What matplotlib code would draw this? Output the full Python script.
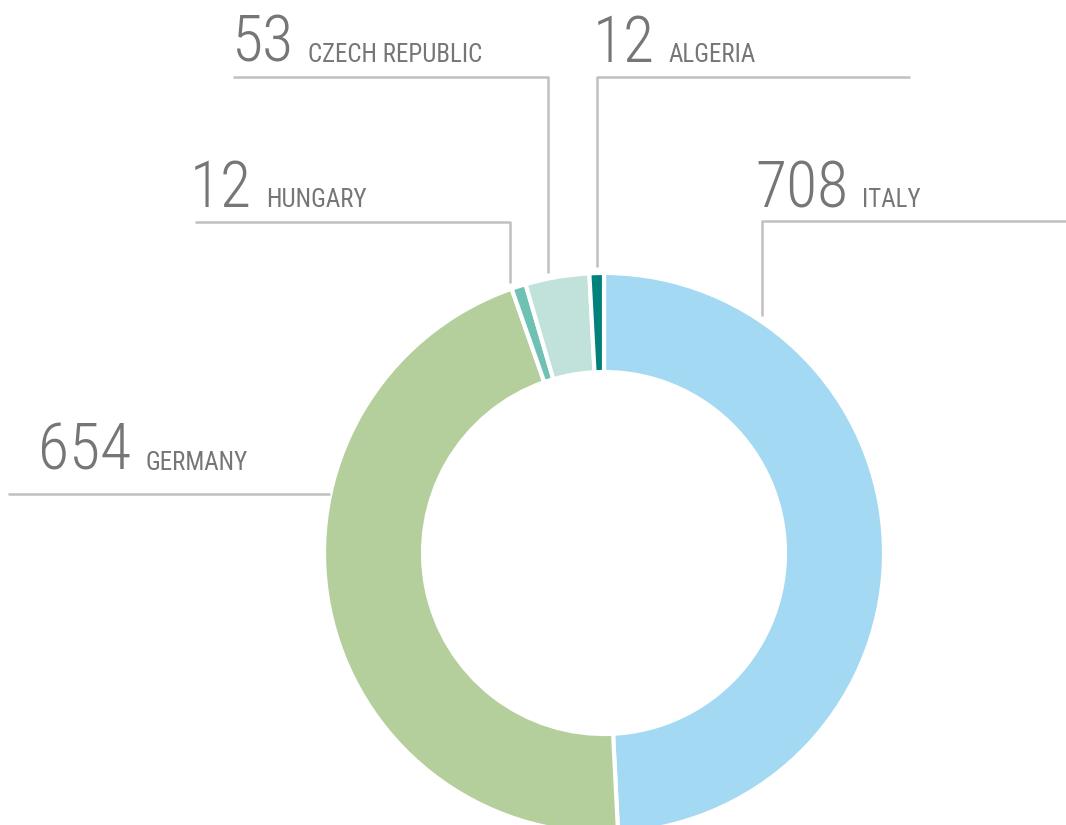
import numpy as np
import matplotlib
matplotlib.use("Agg")
import matplotlib.pyplot as plt
from matplotlib import font_manager

countries = ["ITALY", "GERMANY", "HUNGARY", "CZECH REPUBLIC", "ALGERIA"]
values = [708, 654, 12, 53, 12]
colors = ["#a3d9f2", "#b5cf9c", "#6fc1b3", "#c1e2db", "#00827a"]

W, H = 1066, 825
cx, cy = 604, H - 553
R = 280
ring = 99

# pick the narrowest font we can find
fonts = font_manager.fontManager.ttflist
names = {f.name for f in fonts}
stretch = "normal"
fam = "DejaVu Sans"
for cand in ["Roboto Condensed", "Open Sans Condensed", "Liberation Sans Narrow", "Arial Narrow"]:
    if cand in names:
        fam = cand
        break
else:
    if any(f.name == "DejaVu Sans" and f.stretch == "condensed" for f in fonts):
        stretch = "condensed"
    elif any(f.name == "Roboto" and f.stretch == "condensed" for f in fonts):
        fam, stretch = "Roboto", "condensed"

fig = plt.figure(figsize=(W / 100, H / 100), dpi=100)
ax = fig.add_axes([0, 0, 1, 1])
ax.pie(values, colors=colors, startangle=90, counterclock=False,
       radius=R, center=(cx, cy),
       wedgeprops=dict(width=ring, edgecolor="white", linewidth=3))
ax.set_xlim(0, W)
ax.set_ylim(0, H)
ax.set_aspect("equal")
ax.axis("off")

# leader layout: x of vertical drop, elbow y (pixels from top), far end x
# number x, label x, baseline y (pixels from top)
layout = {
    "ITALY": (762, 221, 1066, 755, 852, 207),
    "GERMANY": (None, 494, 8, 38, 130, 470),
    "HUNGARY": (510, 222, 195, 190, 253, 207),
    "CZECH REPUBLIC": (548, 77, 233, 232, 300, 62),
    "ALGERIA": (597, 77, 910, 593, 655, 62),
}

line_kw = dict(color="#c0c0c0", lw=1.8, solid_capstyle="butt")
txt = "#767676"
renderer = fig.canvas.get_renderer()
for name, val in zip(countries, values):
    lx, ey, ex, nx, tx, by = layout[name]
    if lx is None:
        x0 = cx - np.sqrt(R**2 - (cy - (H - ey))**2)
        ax.plot([ex, x0], [H - ey, H - ey], **line_kw)
    else:
        y0 = cy + np.sqrt(R**2 - (lx - cx)**2) + 6
        ax.plot([lx, lx, ex], [y0, H - ey, H - ey], **line_kw)
    num = ax.text(nx, H - by, str(val), fontsize=46, color=txt, family=fam,
                  fontstretch=stretch, fontweight="light", ha="left", va="baseline")
    right = num.get_window_extent(renderer).x1
    ax.text(max(tx, right + 14), H - by, name, fontsize=18, color=txt, family=fam,
            fontstretch=stretch, ha="left", va="baseline")

fig.savefig("out.png", dpi=100)
